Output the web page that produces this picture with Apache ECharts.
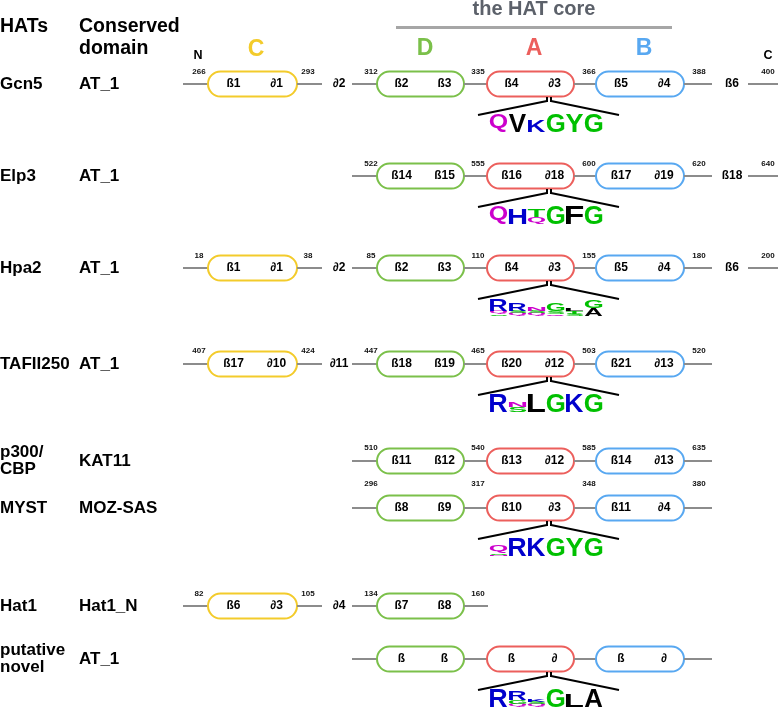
<!DOCTYPE html>
<html><head><meta charset="utf-8">
<script src="https://cdn.jsdelivr.net/npm/echarts@6/dist/echarts.min.js"></script>
<style>html,body{margin:0;padding:0;background:#fff}#c{width:778px;height:711px}</style>
</head><body><div id="c"></div>
<script>
// ---------------- DATA ----------------
const hats = ['Gcn5','Elp3','Hpa2','TAFII250','p300/\nCBP','MYST','Hat1','putative\nnovel'];
const conservedDomains = ['AT_1','AT_1','AT_1','AT_1','KAT11','MOZ-SAS','Hat1_N','AT_1'];
// residue numbers at the boundaries: [C start, C end, D start, D|A, A|B, B end, C-term]
const residueBounds = [
  [266,293,312,335,366,388,400],
  [null,null,522,555,600,620,640],
  [18,38,85,110,155,180,200],
  [407,424,447,465,503,520,null],
  [null,null,510,540,585,635,null],
  [null,null,296,317,348,380,null],
  [82,105,134,160,null,null,null],
  [null,null,null,null,null,null,null]
];
const motifC  = [['ß1','∂1'],null,['ß1','∂1'],['ß17','∂10'],null,null,['ß6','∂3'],null];
const linkerCD = ['∂2',null,'∂2','∂11',null,null,'∂4',null];
const motifD  = [['ß2','ß3'],['ß14','ß15'],['ß2','ß3'],['ß18','ß19'],['ß11','ß12'],['ß8','ß9'],['ß7','ß8'],['ß','ß']];
const motifA  = [['ß4','∂3'],['ß16','∂18'],['ß4','∂3'],['ß20','∂12'],['ß13','∂12'],['ß10','∂3'],null,['ß','∂']];
const motifB  = [['ß5','∂4'],['ß17','∂19'],['ß5','∂4'],['ß21','∂13'],['ß14','∂13'],['ß11','∂4'],null,['ß','∂']];
const cTail   = ['ß6','ß18','ß6',null,null,null,null,null];
// sequence logos: columns, each a stack of [letter, relative height] from top to bottom
const logos = [
  [[['Q',1]],[['V',1]],[['K',0.62]],[['G',1]],[['Y',1]],[['G',1]]],
  [[['Q',1]],[['H',0.86]],[['T',0.42],['Q',0.38]],[['G',1]],[['F',1]],[['G',1]]],
  [[['R',0.6],['Q',0.2],['S',0.1]],[['R',0.42],['S',0.16],['Q',0.14]],[['N',0.2],['S',0.14],['Q',0.14]],
   [['G',0.46],['S',0.14],['Q',0.12]],[['L',0.12],['T',0.14],['S',0.12]],[['G',0.42],['A',0.44]]],
  [[['R',1]],[['N',0.3],['S',0.3]],[['L',1]],[['G',1]],[['K',1]],[['G',1]]],
  null,
  [[['Q',0.5],['S',0.08],['N',0.08]],[['R',1]],[['K',1]],[['G',1]],[['Y',1]],[['G',1]]],
  null,
  [[['R',1]],[['R',0.5],['G',0.22],['Q',0.16]],[['K',0.12],['S',0.16],['Q',0.14]],[['G',1]],[['L',0.68]],[['A',1]]]
];
const domainLetters = ['C','D','A','B'];

// ---------------- STYLE / LAYOUT ----------------
const FONT = '"Liberation Sans", Arial, Helvetica, sans-serif';
const LOGO_FONT = 'bold 100px "Liberation Sans", Arial, sans-serif';
const domainColors = {C:'#F3CB2B', D:'#7BC04A', A:'#EC5F5C', B:'#58A8F1'};
const rowY = [84,176,268,364,461,508,606,659];
const numOffset = [-12,-12,-12,-13,-13,-24,-12,-12];
const pillX = {C:[208,297], D:[377,464], A:[487,574], B:[596,684]};
const boundX = [199,308,371,478,589,699,768];
function letterColor(l){
  if ('GSTYC'.includes(l)) return '#00C000';
  if ('NQ'.includes(l)) return '#CC00CC';
  if ('KRH'.includes(l)) return '#0000CC';
  if ('DE'.includes(l)) return '#CC0000';
  return '#000000';
}
// glyph ink metrics (relative to a centred, middle-baseline anchor)
const mctx = document.createElement('canvas').getContext('2d');
const metricCache = {};
function glyph(l){
  if (!metricCache[l]) {
    mctx.font = LOGO_FONT; mctx.textAlign = 'center'; mctx.textBaseline = 'middle';
    const m = mctx.measureText(l);
    metricCache[l] = {left:m.actualBoundingBoxLeft, right:m.actualBoundingBoxRight,
      asc:m.actualBoundingBoxAscent, desc:m.actualBoundingBoxDescent};
  }
  return metricCache[l];
}

const chart = echarts.init(document.getElementById('c'), null, {renderer:'canvas'});

function renderRow(params, api){
  const i = api.value(0);
  const y = rowY[i];
  const P = (x, yy) => api.coord([x, yy]);
  const ch = [];
  const LINE = '#8C8C8C';
  function seg(x1, x2){
    const a = P(x1, y), b = P(x2, y);
    ch.push({type:'line', shape:{x1:a[0],y1:a[1],x2:b[0],y2:b[1]}, style:{stroke:LINE, lineWidth:2}});
  }
  function label(x, yy, t, font, color, align){
    const p = P(x, yy);
    ch.push({type:'text', style:{text:t, x:p[0], y:p[1], font:font, fill:color||'#000',
      align:align||'center', verticalAlign:'middle', lineHeight:17}});
  }
  function pill(key, labels){
    const [x1, x2] = pillX[key];
    const a = P(x1, y - 12.5), b = P(x2, y + 12.5);
    ch.push({type:'rect', shape:{x:a[0], y:a[1], width:b[0]-a[0], height:b[1]-a[1], r:12.5},
      style:{fill:'#fff', stroke:domainColors[key], lineWidth:2}});
    const c = (x1 + x2) / 2;
    label(c - 19, y, labels[0], 'bold 12px ' + FONT);
    label(c + 24, y, labels[1], 'bold 12px ' + FONT);
  }
  // left texts
  label(0, y, hats[i], 'bold 17px ' + FONT, '#000', 'left');
  label(79, y, conservedDomains[i], 'bold 17px ' + FONT, '#000', 'left');
  // backbone
  if (motifC[i]) {
    seg(183, pillX.C[0]);
    pill('C', motifC[i]);
    seg(pillX.C[1], 322);
    if (linkerCD[i]) label(339, y, linkerCD[i], 'bold 12px ' + FONT);
  }
  seg(352, pillX.D[0]);
  pill('D', motifD[i]);
  seg(pillX.D[1], pillX.A[0] + 1);
  if (motifA[i]) {
    pill('A', motifA[i]);
    seg(pillX.A[1], pillX.B[0]);
    pill('B', motifB[i]);
    seg(pillX.B[1], 712);
  }
  if (cTail[i]) {
    label(732, y, cTail[i], 'bold 12px ' + FONT);
    seg(748, 778);
  }
  // residue numbers
  residueBounds[i].forEach((v, k) => {
    if (v != null) label(boundX[k], y + numOffset[i], String(v), 'bold 8px ' + FONT, '#111');
  });
  // sequence logo
  const logo = logos[i];
  if (logo) {
    const bl = [[547, y + 13, 547, y + 18], [551, y + 13, 551, y + 18],
                [547, y + 17, 478, y + 31], [551, y + 17, 619, y + 31]];
    bl.forEach(s => {
      const a = P(s[0], s[1]), b = P(s[2], s[3]);
      ch.push({type:'line', shape:{x1:a[0],y1:a[1],x2:b[0],y2:b[1]}, style:{stroke:'#000', lineWidth:2}});
    });
    const x0 = 489, colW = 19, fullH = 18, bottom = y + 48;
    logo.forEach((col, k) => {
      let yb = bottom;
      for (let j = col.length - 1; j >= 0; j--) {
        const [l, f] = col[j];
        const h = f * fullH;
        const g = glyph(l);
        const w = colW - 1.5;
        const sx = w / (g.left + g.right);
        const sy = h / (g.asc + g.desc);
        const left = x0 + k * colW + 0.75;
        const top = yb - h;
        const p = P(left + g.left * sx, top + g.asc * sy);
        ch.push({type:'text', x:p[0], y:p[1], scaleX:sx, scaleY:sy,
          style:{text:l, x:0, y:0, font:LOGO_FONT, fill:letterColor(l),
            align:'center', verticalAlign:'middle'}});
        yb -= h;
      }
    });
  }
  return {type:'group', children:ch};
}

const headerFont = 'bold 19.5px ' + FONT;
chart.setOption({
  animation:false,
  grid:{left:0, right:0, top:0, bottom:0},
  xAxis:{type:'value', min:0, max:778, show:false},
  yAxis:{type:'value', min:0, max:711, inverse:true, show:false},
  graphic:[
    {type:'text', x:0, y:27, style:{text:'HATs', font:headerFont, fill:'#000', verticalAlign:'middle'}},
    {type:'text', x:79, y:27, style:{text:'Conserved', font:headerFont, fill:'#000', verticalAlign:'middle'}},
    {type:'text', x:79, y:49, style:{text:'domain', font:headerFont, fill:'#000', verticalAlign:'middle'}},
    {type:'text', x:534, y:9, style:{text:'the HAT core', font:'bold 20px ' + FONT, fill:'#5C616A', align:'center', verticalAlign:'middle'}},
    {type:'rect', shape:{x:396, y:26, width:276, height:3}, style:{fill:'#A6A6A6'}},
    {type:'text', x:198, y:56, style:{text:'N', font:'bold 12.5px ' + FONT, fill:'#000', align:'center', verticalAlign:'middle'}},
    {type:'text', x:768, y:56, style:{text:'C', font:'bold 12.5px ' + FONT, fill:'#000', align:'center', verticalAlign:'middle'}},
    {type:'text', x:256, y:50, style:{text:domainLetters[0], font:'bold 23px ' + FONT, fill:domainColors.C, align:'center', verticalAlign:'middle'}},
    {type:'text', x:425, y:49, style:{text:domainLetters[1], font:'bold 23px ' + FONT, fill:domainColors.D, align:'center', verticalAlign:'middle'}},
    {type:'text', x:534, y:49, style:{text:domainLetters[2], font:'bold 23px ' + FONT, fill:domainColors.A, align:'center', verticalAlign:'middle'}},
    {type:'text', x:644, y:49, style:{text:domainLetters[3], font:'bold 23px ' + FONT, fill:domainColors.B, align:'center', verticalAlign:'middle'}}
  ],
  series:[{
    type:'custom', clip:false, silent:true,
    data: hats.map((_, i) => [i]),
    encode:{x:-1, y:-1},
    renderItem: renderRow
  }]
});
</script></body></html>
